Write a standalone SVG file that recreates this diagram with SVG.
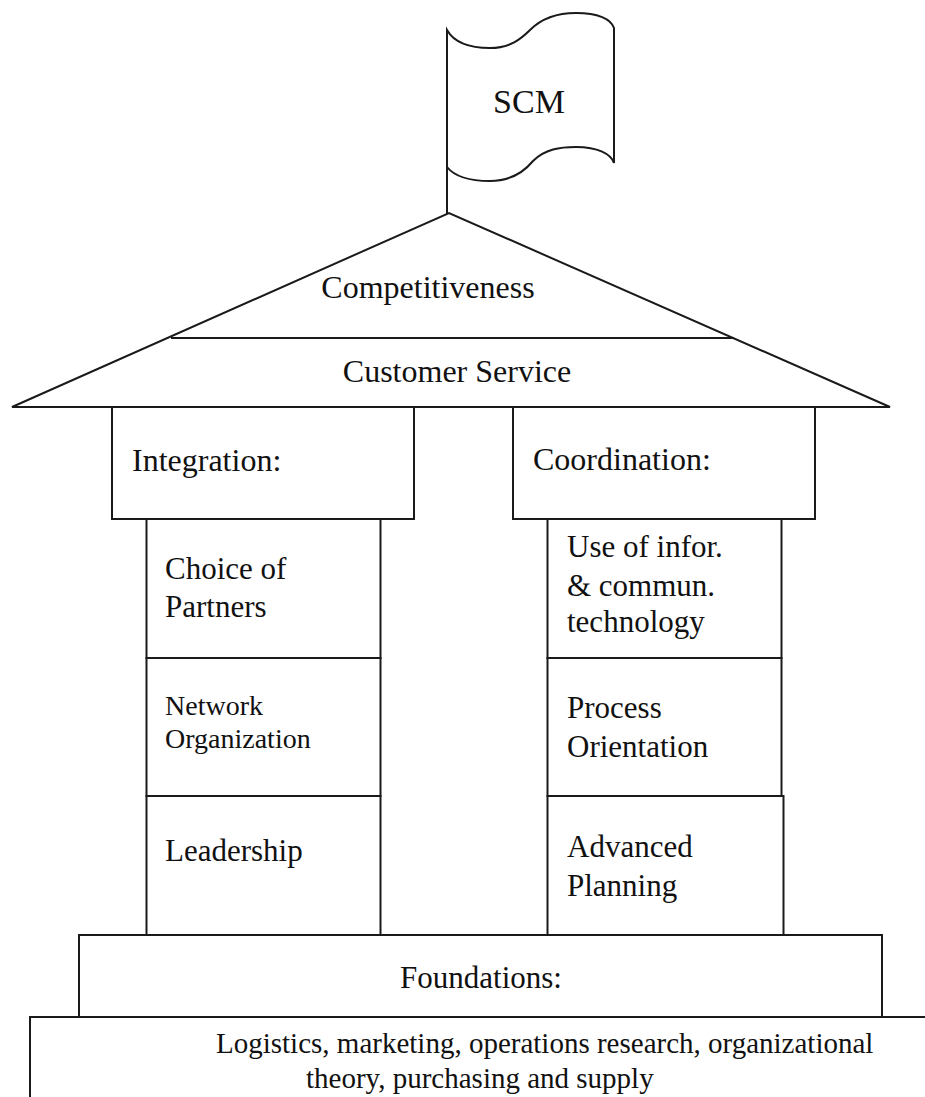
<svg xmlns="http://www.w3.org/2000/svg" width="925" height="1097" viewBox="0 0 925 1097">
  <style>
    .ln { fill: #ffffff; stroke: #1a1a1a; stroke-width: 2; }
    .open { fill: none; stroke: #1a1a1a; stroke-width: 2; }
    .t { font-family: "Liberation Serif", "Times New Roman", serif; fill: #111111; }
    .roof-t { font-size: 32px; text-anchor: middle; }
    .cap-t { font-size: 32px; }
    .blk-t { font-size: 31px; }
    .sm-t { font-size: 28px; }
    .base-t { font-size: 29px; }
  </style>
  <rect width="925" height="1097" fill="#ffffff"/>

  <!-- flag on its pole -->
  <g id="flag">
    <line class="open" x1="447" y1="30" x2="447" y2="214"/>
    <path class="ln" d="M447,30 C455,44 473,48 490,48 C510,48 521,39 530,30 C544,16 560,13 576,13 C598,13 611,19 614,28 L614,163 C611,154 598,147 576,147 C560,147 545,149 533,161 C523,173 510,181 490,181 C472,181 455,177 447,167 Z"/>
    <text class="t" x="529" y="113" font-size="34" text-anchor="middle">SCM</text>
  </g>

  <!-- roof -->
  <g id="roof">
    <polygon class="ln" points="12,407 449,213 890,407"/>
    <line class="open" x1="171" y1="338" x2="734" y2="338"/>
    <text class="t roof-t" x="428" y="298">Competitiveness</text>
    <text class="t roof-t" x="457" y="382">Customer Service</text>
  </g>

  <!-- left pillar -->
  <g id="integration">
    <rect class="ln" x="112" y="407" width="302" height="112"/>
    <text class="t cap-t" x="132" y="471">Integration:</text>
  </g>
  <g id="choice-of-partners">
    <rect class="ln" x="146.5" y="519" width="234" height="139"/>
    <text class="t blk-t" x="165" y="579">Choice of</text>
    <text class="t blk-t" x="165" y="617">Partners</text>
  </g>
  <g id="network-organization">
    <rect class="ln" x="146.5" y="658" width="234" height="138"/>
    <text class="t sm-t" x="165" y="715">Network</text>
    <text class="t sm-t" x="165" y="748">Organization</text>
  </g>
  <g id="leadership">
    <rect class="ln" x="146.5" y="796" width="234" height="139"/>
    <text class="t blk-t" x="165" y="861">Leadership</text>
  </g>

  <!-- right pillar -->
  <g id="coordination">
    <rect class="ln" x="513" y="407" width="302" height="112"/>
    <text class="t cap-t" x="533" y="470">Coordination:</text>
  </g>
  <g id="ict">
    <rect class="ln" x="547.5" y="519" width="234" height="139"/>
    <text class="t blk-t" x="567" y="557">Use of infor.</text>
    <text class="t blk-t" x="567" y="596">&amp; commun.</text>
    <text class="t blk-t" x="567" y="632">technology</text>
  </g>
  <g id="process-orientation">
    <rect class="ln" x="547.5" y="658" width="234" height="138"/>
    <text class="t blk-t" x="567" y="718">Process</text>
    <text class="t blk-t" x="567" y="757">Orientation</text>
  </g>
  <g id="advanced-planning">
    <rect class="ln" x="547.5" y="796" width="236" height="139"/>
    <text class="t blk-t" x="567" y="857">Advanced</text>
    <text class="t blk-t" x="567" y="896">Planning</text>
  </g>

  <!-- foundations -->
  <g id="foundations">
    <rect class="ln" x="79" y="935" width="803" height="82"/>
    <text class="t blk-t" x="481" y="988" text-anchor="middle">Foundations:</text>
  </g>
  <g id="disciplines">
    <path class="open" d="M925,1017 H30 V1097"/>
    <text class="t base-t" x="216" y="1053">Logistics, marketing, operations research, organizational</text>
    <text class="t base-t" x="306" y="1088">theory, purchasing and supply</text>
  </g>
</svg>
